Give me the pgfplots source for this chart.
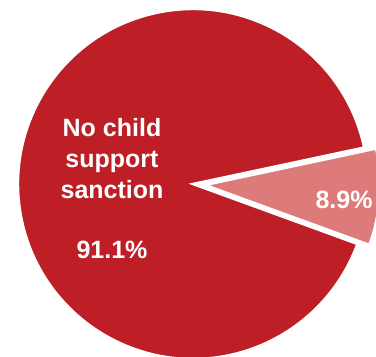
\documentclass[border=0pt]{standalone}
\usepackage{pgfplots}
\pgfplotsset{compat=1.18}
\usepackage{pgfplotstable}
\usepackage{fontspec}
\setmainfont{Liberation Sans}
\definecolor{mainred}{RGB}{190,30,38}
\definecolor{lightred}{RGB}{221,122,122}
\pgfplotstableread{
label value
nosanction 91.1
sanction 8.9
}\piedata
\begin{document}
\begin{tikzpicture}
\pgfplotstablegetelem{0}{value}\of\piedata \edef\va{\pgfplotsretval}
\pgfplotstablegetelem{1}{value}\of\piedata \edef\vb{\pgfplotsretval}
\pgfmathsetmacro{\sweepb}{\vb*3.6}
\pgfmathsetmacro{\startb}{-4-\sweepb/2}
\pgfmathsetmacro{\endb}{-4+\sweepb/2}
\pgfmathsetmacro{\enda}{\startb+360}
\begin{axis}[x=1pt,y=1pt,xmin=0,xmax=376,ymin=0,ymax=357,hide axis,clip=true,scale only axis]
\path (axis cs:0,0) rectangle (axis cs:376,357);
\fill[mainred, draw=white, line width=2.5pt] (axis cs:193,173) -- ++(\endb:175pt) arc[start angle=\endb, end angle=\enda, radius=175pt] -- cycle;
\fill[lightred, draw=white, line width=2.5pt] (axis cs:205,172) -- ++(\startb:175pt) arc[start angle=\startb, end angle=\endb, radius=175pt] -- cycle;
\node[white, font=\bfseries\fontsize{25}{31}\selectfont, align=center] at (axis cs:112,198) {No child\\support\\sanction};
\node[white, font=\bfseries\fontsize{25}{31}\selectfont] at (axis cs:112,107) {\va\%};
\node[white, font=\bfseries\fontsize{25}{31}\selectfont] at (axis cs:344,157) {\vb\%};
\end{axis}
\end{tikzpicture}
\end{document}
